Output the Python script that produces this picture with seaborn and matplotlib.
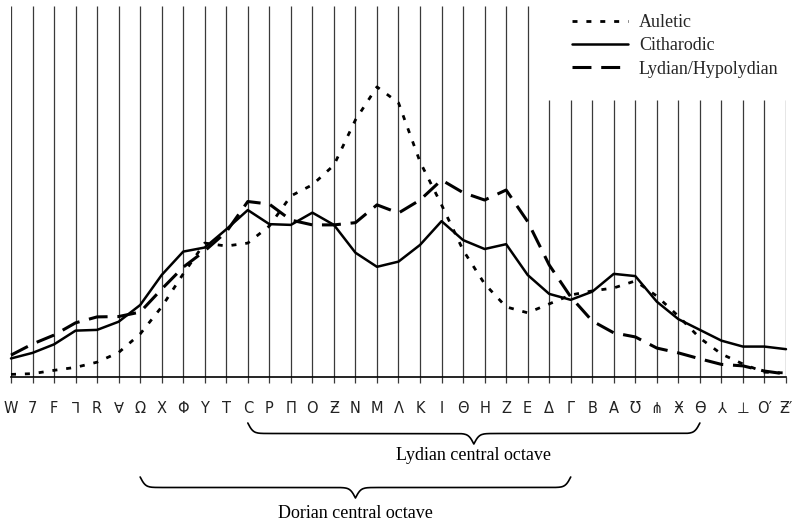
import numpy as np
import pandas as pd
import matplotlib
matplotlib.use("Agg")
import matplotlib.pyplot as plt
import matplotlib.transforms as mtransforms
from matplotlib.lines import Line2D
import seaborn as sns

# ---------------- data ----------------
notes = ["W", "7", "F", "⅂", "R", "∀", "Ω", "X", "Φ", "Y", "T", "C", "P", "Π", "O",
         "Ƶ", "N", "M", "Λ", "K", "I", "Θ", "H", "Z", "E", "Δ", "Γ", "B", "A", "Ʊ",
         "⋔", "Ӿ", "ϴ", "⅄", "⊥", "O′", "Ƶ′"]

auletic = [0.7, 0.9, 1.8, 2.6, 4.0, 6.6, 11.6, 18.9, 27.8, 36.1, 35.3, 36.1, 40.7,
           48.8, 51.8, 57.1, 69.3, 78.2, 73.9, 58.0, 46.4, 34.2, 25.1, 18.9, 17.3,
           19.7, 22.1, 23.2, 24.0, 25.9, 21.8, 16.4, 10.5, 6.2, 3.5, 1.3, 1.1]

citharodic = [5.0, 6.5, 8.8, 12.5, 12.7, 14.9, 19.4, 27.5, 33.8, 34.9, 39.8, 45.0,
              41.2, 41.0, 44.3, 41.0, 33.5, 29.7, 31.1, 35.6, 42.0, 36.9, 34.5, 35.8,
              27.5, 22.4, 20.8, 23.0, 27.8, 27.2, 20.3, 15.6, 12.7, 9.8, 8.2, 8.2, 7.5]

lydian = [5.9, 8.9, 11.3, 14.6, 16.2, 16.3, 17.5, 23.7, 29.6, 34.0, 39.1, 47.3, 46.6,
          42.3, 41.0, 41.0, 41.6, 46.4, 44.2, 47.7, 53.1, 49.7, 47.7, 50.4, 41.9, 30.2,
          21.6, 15.1, 11.9, 10.8, 7.8, 6.5, 4.9, 3.4, 3.0, 1.6, 0.8]

series_names = ["Auletic", "Citharodic", "Lydian/Hypolydian"]

octave_names = ["Lydian central octave", "Dorian central octave"]
octave_start = ["C", "Ω"]
octave_end = ["ϴ", "Γ"]

# ---------------- style ----------------
sns.set_theme(style="white")
plt.rcParams["font.family"] = ["DejaVu Sans", "Noto Sans"]
serif = ["Liberation Serif", "DejaVu Serif"]

W, H = 792, 523
fig = plt.figure(figsize=(W / 100, H / 100), dpi=100)
ax = fig.add_axes([11 / W, 146 / H, 775 / W, 371 / H])

pos = np.arange(len(notes))
df = pd.DataFrame({
    "pos": np.tile(pos, 3),
    "value": auletic + citharodic + lydian,
    "series": np.repeat(series_names, len(notes)),
})

styles = {
    "Auletic": dict(lw=2.0, linestyle=(0, (1.8, 3.2))),
    "Citharodic": dict(lw=1.8, linestyle="-"),
    "Lydian/Hypolydian": dict(lw=2.2, linestyle=(0, (6.2, 3.2))),
}

# vertical guide lines (shortened under the legend)
tops = np.where(pos < 25, 100, 74.7)
ax.vlines(pos, 0, tops, colors="#3a3a3a", lw=0.9, zorder=0)

for name in series_names:
    sub = df[df["series"] == name]
    sns.lineplot(data=sub, x="pos", y="value", ax=ax, color="black",
                 legend=False, clip_on=False, zorder=3, **styles[name])

ax.set_xlim(0, len(notes) - 1)
ax.set_ylim(0, 100)
ax.set_xticks(pos)
ax.set_xticklabels(notes)
ax.set_yticks([])
ax.set_xlabel("")
ax.set_ylabel("")
ax.tick_params(axis="x", bottom=True, length=4, width=0.9, color="#3a3a3a",
               pad=13, labelsize=10.5, labelcolor="#222222")
for s in ["left", "top", "right"]:
    ax.spines[s].set_visible(False)
ax.spines["bottom"].set_color("black")
ax.spines["bottom"].set_linewidth(1.2)

# legend
handles = [Line2D([], [], color="black", **styles[n]) for n in series_names]
ax.legend(handles, series_names, loc="upper left",
          bbox_to_anchor=(572 / W, 1 - 14 / H), bbox_transform=fig.transFigure,
          frameon=False, borderpad=0, borderaxespad=0, handlelength=3.1,
          handletextpad=0.6, labelspacing=0.35,
          prop={"family": serif, "size": 13})

# braces for the central octaves
trans = mtransforms.blended_transform_factory(ax.transData, ax.transAxes)
axh = 371.0


def brace(x0, x1, top_px, h_px, label, text_px):
    xs = np.linspace(x0, x1, 401)
    half = xs[:201]
    beta = 8.0
    yh = (1 / (1 + np.exp(-beta * (half - half[0])))
          + 1 / (1 + np.exp(-beta * (half - half[-1]))))
    yy = np.concatenate([yh, yh[-2::-1]])
    top = (377 - top_px) / axh
    h = h_px / axh
    ax.plot(xs, top - (yy - 0.5) * h, color="black", lw=1.2,
            transform=trans, clip_on=False)
    ax.text((x0 + x1) / 2, (377 - text_px) / axh, label, transform=trans,
            ha="center", va="center", fontsize=13, family=serif, color="black")


brace(notes.index(octave_start[0]), notes.index(octave_end[0]), 423, 21,
      octave_names[0], 456)
brace(notes.index(octave_start[1]), notes.index(octave_end[1]), 477, 21,
      octave_names[1], 513)

fig.savefig("out.png", dpi=100)
